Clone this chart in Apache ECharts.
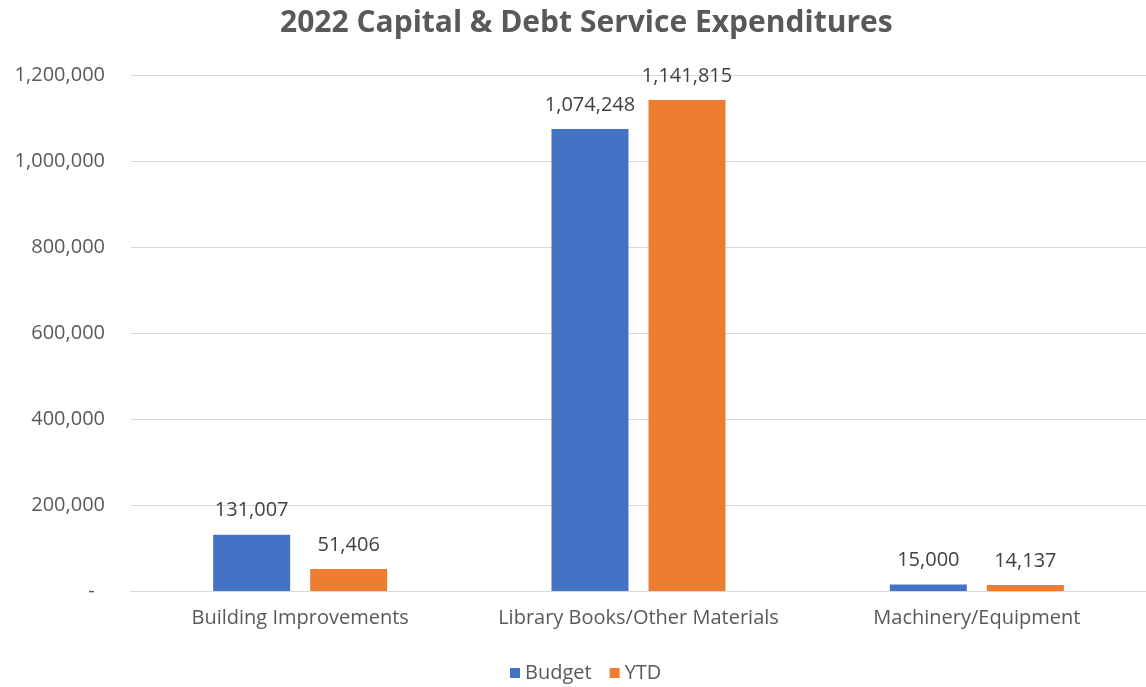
<!DOCTYPE html>
<html>
<head>
<meta charset="utf-8">
<script src="https://cdn.jsdelivr.net/npm/echarts@6/dist/echarts.min.js"></script>
<style>
  html, body { margin: 0; padding: 0; background: #fff; overflow: hidden; }
  #chart { width: 1146px; height: 687px; }
</style>
</head>
<body>
<div id="chart"></div>
<script>
// Expenditure categories and amounts
const categories = ['Building Improvements', 'Library Books/Other Materials', 'Machinery/Equipment'];
const budget = [131007, 1074248, 15000];
const ytd = [51406, 1141815, 14137];
const seriesNames = ['Budget', 'YTD'];

const FONT = '"Open Sans", Lato, sans-serif';
// Zero is shown accounting-style as a dash
const fmt = v => v === 0 ? '-\u00a0\u00a0' : v.toLocaleString('en-US');

const chart = echarts.init(document.getElementById('chart'), null, { renderer: 'canvas' });

const labelStyle = {
  show: true,
  position: 'top',
  distance: 14,
  color: '#404040',
  fontFamily: FONT,
  fontSize: 20,
  formatter: p => fmt(p.value)
};

chart.setOption({
  backgroundColor: '#ffffff',
  animation: false,
  title: {
    text: '2022 Capital & Debt Service Expenditures',
    left: 275,
    top: 3,
    textStyle: { fontFamily: FONT, fontSize: 30, fontWeight: 'bold', color: '#595959' }
  },
  legend: {
    top: 658,
    left: 505,
    itemWidth: 10,
    itemHeight: 10,
    itemGap: 18,
    icon: 'rect',
    textStyle: { fontFamily: FONT, fontSize: 20, color: '#595959' },
    data: seriesNames
  },
  grid: { left: 131, width: 1024, top: 75, bottom: 96 },
  xAxis: {
    type: 'category',
    data: categories,
    axisLine: { show: true, lineStyle: { color: '#d9d9d9', width: 1 } },
    axisTick: { show: false },
    axisLabel: { fontFamily: FONT, fontSize: 20, color: '#595959', margin: 17, interval: 0 }
  },
  yAxis: {
    type: 'value',
    min: 0,
    max: 1200000,
    interval: 200000,
    axisLine: { show: false },
    axisTick: { show: false },
    splitLine: { lineStyle: { color: '#d9d9d9', width: 1 } },
    axisLabel: { fontFamily: FONT, fontSize: 20, color: '#595959', margin: 26, formatter: fmt }
  },
  series: [
    {
      name: seriesNames[0],
      type: 'bar',
      data: budget,
      barWidth: 77,
      barGap: '26%',
      itemStyle: { color: '#4472c4' },
      label: labelStyle
    },
    {
      name: seriesNames[1],
      type: 'bar',
      data: ytd,
      barWidth: 77,
      itemStyle: { color: '#ed7d31' },
      label: labelStyle
    }
  ]
});
</script>
</body>
</html>
